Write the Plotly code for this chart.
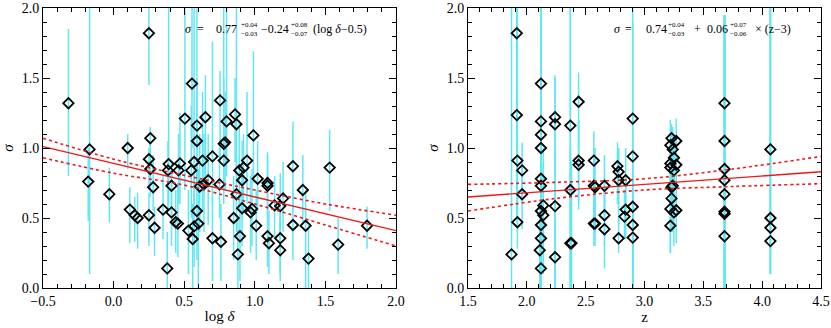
import plotly.graph_objects as go
from plotly.subplots import make_subplots

# ---- left panel: sigma vs log(delta) ----
# point values and error-bar bounds
left_x = [-0.32, -0.17, -0.18, -0.03, 0.10, 0.115, 0.15, 0.17, 0.25, 0.26,
          0.25, 0.26, 0.25, 0.28, 0.29, 0.35, 0.385, 0.39, 0.38, 0.41,
          0.41, 0.44, 0.455, 0.46, 0.47, 0.505, 0.53, 0.55, 0.555, 0.56,
          0.57, 0.57, 0.59, 0.59, 0.59, 0.60, 0.61, 0.63, 0.64, 0.65,
          0.67, 0.70, 0.70, 0.75, 0.754, 0.76, 0.78, 0.79, 0.78, 0.80,
          0.86, 0.87, 0.85, 0.87, 0.88, 0.89, 0.895, 0.91, 0.91, 0.92,
          0.945, 0.97, 0.98, 0.99, 1.01, 1.02, 1.09, 1.09, 1.09, 1.10,
          1.14, 1.18, 1.18, 1.18, 1.20, 1.27, 1.27, 1.34, 1.36, 1.38,
          1.53, 1.59, 1.795]
left_y = [1.32, 0.99, 0.76, 0.67, 1.00, 0.56, 0.52, 0.50, 1.82, 1.07,
          0.92, 0.85, 0.52, 0.72, 0.43, 0.56, 0.84, 0.885, 0.14, 0.73,
          0.54, 0.47, 0.46, 0.84, 0.89, 1.21, 0.41, 0.84, 1.46, 0.35,
          0.44, 0.90, 1.16, 1.05, 0.55, 0.46, 0.725, 0.91, 0.74, 1.22,
          0.77, 0.94, 0.355, 0.74, 1.34, 0.33, 1.03, 1.04, 0.91, 1.19,
          1.24, 1.17, 0.50, 0.67, 0.24, 0.84, 0.37, 0.57, 0.77, 0.86,
          0.91, 0.54, 0.565, 1.09, 0.445, 0.78, 0.75, 0.73, 0.37, 0.32,
          0.59, 0.585, 0.355, 0.27, 0.64, 0.87, 0.45, 0.70, 0.445, 0.21,
          0.86, 0.31, 0.445]
left_lo = [0.80, 0.10, 0.48, 0.47, 0.85, 0.32, 0.33, 0.28, 1.45, 0.88,
           0.72, 0.65, 0.30, 0.55, 0.23, 0.35, 0.55, 0.60, 0.00, 0.50,
           0.30, 0.25, 0.22, 0.60, 0.60, 0.70, 0.10, 0.50, 1.00, 0.00,
           0.15, 0.55, 0.75, 0.70, 0.20, 0.00, 0.40, 0.55, 0.40, 0.80,
           0.45, 0.60, 0.05, 0.50, 0.90, 0.05, 0.70, 0.70, 0.60, 0.80,
           0.90, 0.80, 0.20, 0.40, 0.00, 0.55, 0.05, 0.30, 0.50, 0.55,
           0.60, 0.25, 0.30, 0.75, 0.20, 0.55, 0.55, 0.50, 0.15, 0.10,
           0.35, 0.35, 0.10, 0.05, 0.40, 0.55, 0.20, 0.45, 0.00, 0.00,
           0.55, 0.10, 0.28]
left_hi = [1.85, 2.05, 1.00, 0.86, 1.10, 0.72, 0.65, 0.68, 2.20, 1.15,
           1.00, 1.05, 0.68, 0.95, 0.58, 0.80, 1.05, 2.05, 0.40, 0.90,
           0.85, 0.70, 0.75, 1.10, 1.25, 2.05, 0.70, 1.30, 2.05, 0.60,
           0.80, 2.05, 2.05, 1.50, 0.90, 0.85, 1.10, 1.40, 1.10, 1.52,
           1.10, 1.76, 0.65, 1.00, 1.55, 0.60, 2.05, 1.40, 1.50, 2.05,
           1.50, 2.05, 0.80, 0.95, 0.50, 1.20, 0.70, 0.85, 1.05, 1.10,
           1.40, 0.80, 0.85, 1.69, 0.70, 1.05, 0.97, 0.95, 0.60, 0.55,
           0.80, 0.82, 0.60, 0.50, 0.90, 1.19, 0.70, 0.95, 0.70, 0.45,
           1.13, 0.50, 0.58]

# fitted relation and its confidence band
left_fit_x = [-0.5, 2.0]
left_fit_y = [1.01, 0.41]
left_band_x = [-0.5, 0.0, 0.5, 1.0, 1.5, 2.0]
left_band_hi = [1.07, 0.92, 0.805, 0.70, 0.60, 0.52]
left_band_lo = [0.93, 0.82, 0.735, 0.60, 0.45, 0.30]

# ---- right panel: sigma vs z ----
right_z = [1.87, 1.915, 1.915, 1.92, 1.92, 1.96, 1.96,
           2.12, 2.12, 2.12, 2.12, 2.12, 2.12, 2.14, 2.12, 2.14, 2.12, 2.12, 2.11, 2.12,
           2.24, 2.24, 2.24, 2.24,
           2.37, 2.37, 2.37, 2.38,
           2.44, 2.44, 2.44,
           2.57, 2.57, 2.58, 2.57, 2.58,
           2.66, 2.66, 2.66,
           2.77, 2.78, 2.78, 2.78,
           2.84, 2.84, 2.83,
           2.90, 2.90, 2.90, 2.90, 2.90,
           3.23, 3.27, 3.22, 3.24, 3.25, 3.22, 3.27, 3.22, 3.25, 3.24, 3.23, 3.23,
           3.22, 3.27, 3.25, 3.22,
           3.68, 3.68, 3.68, 3.68, 3.68, 3.68, 3.68, 3.68,
           4.07, 4.07, 4.07, 4.07]
right_y = [0.24, 1.82, 1.235, 0.91, 0.47, 0.84, 0.67,
           1.46, 1.19, 1.095, 1.00, 0.78, 0.73, 0.59, 0.55, 0.52, 0.45, 0.355, 0.27, 0.14,
           1.22, 1.17, 0.585, 0.22,
           1.16, 0.70, 0.32, 0.32,
           1.33, 0.91, 0.88,
           0.91, 0.73, 0.72, 0.46, 0.46,
           0.73, 0.52, 0.42,
           0.87, 0.83, 0.77, 0.355,
           0.77, 0.56, 0.51,
           1.21, 0.94, 0.58, 0.45, 0.36,
           1.07, 1.05, 1.02, 0.99, 0.93, 0.89, 0.88, 0.86, 0.84, 0.73, 0.72, 0.64,
           0.565, 0.555, 0.54, 0.445,
           1.32, 1.05, 0.85, 0.77, 0.67, 0.545, 0.53, 0.37,
           0.99, 0.50, 0.43, 0.335]
right_lo = [0.00, 1.20, 0.50, 0.40, 0.28, 0.65, 0.42,
            1.00, 0.00, 0.70, 0.50, 0.20, 0.30, 0.10, 0.10, 0.10, 0.05, 0.00, 0.00, 0.00,
            0.80, 0.00, 0.00, 0.00,
            0.00, 0.00, 0.00, 0.00,
            1.00, 0.56, 0.60,
            0.50, 0.40, 0.40, 0.30, 0.30,
            0.50, 0.30, 0.14,
            0.60, 0.55, 0.45, 0.25,
            0.50, 0.35, 0.35,
            0.00, 0.00, 0.00, 0.00, 0.00,
            0.80, 0.80, 0.80, 0.80, 0.70, 0.70, 0.70, 0.70, 0.60, 0.40, 0.40, 0.40,
            0.25, 0.32, 0.30, 0.25,
            0.00, 0.00, 0.00, 0.00, 0.00, 0.00, 0.00, 0.00,
            0.10, 0.10, 0.10, 0.10]
right_hi = [2.05, 2.05, 2.05, 2.05, 0.70, 1.04, 0.90,
            2.05, 2.05, 1.69, 1.57, 2.05, 1.20, 1.00, 0.90, 0.90, 0.90, 0.80, 0.60, 0.50,
            1.52, 1.50, 1.00, 0.50,
            2.05, 2.05, 1.00, 0.90,
            1.54, 1.20, 1.20,
            1.12, 1.00, 1.00, 0.70, 0.70,
            0.95, 0.80, 0.70,
            1.04, 1.00, 1.00, 0.50,
            1.00, 0.80, 0.70,
            1.90, 2.05, 0.90, 0.80, 0.70,
            1.17, 1.21, 1.20, 1.15, 1.10, 1.05, 1.05, 1.00, 1.00, 0.95, 0.95, 0.90,
            0.80, 0.80, 0.80, 0.70,
            1.95, 1.95, 1.95, 1.95, 1.95, 1.95, 1.95, 1.95,
            2.05, 2.05, 2.05, 2.05]

right_fit_x = [1.5, 4.5]
right_fit_y = [0.65, 0.83]
right_band_x = [1.5, 2.25, 3.0, 3.75, 4.5]
right_band_hi = [0.74, 0.755, 0.78, 0.85, 0.94]
right_band_lo = [0.55, 0.64, 0.70, 0.725, 0.745]

CYAN = "rgb(95,232,244)"
RED = "rgb(235,25,25)"
SERIF = "Liberation Serif"

fig = make_subplots(rows=1, cols=2, horizontal_spacing=0.0925)


def add_panel(col, xs, ys, lo, hi, fx, fy, bx, bhi, blo):
    plus = [h - y for h, y in zip(hi, ys)]
    minus = [y - l for y, l in zip(ys, lo)]
    fig.add_trace(go.Scatter(
        x=xs, y=ys, mode="markers",
        marker=dict(symbol="diamond-open", size=8, color="black", line=dict(width=1.8, color="black")),
        error_y=dict(type="data", symmetric=False, array=plus, arrayminus=minus,
                     color=CYAN, thickness=1.5, width=0),
        showlegend=False), row=1, col=col)
    fig.add_trace(go.Scatter(x=fx, y=fy, mode="lines", line=dict(color=RED, width=1.4),
                             showlegend=False), row=1, col=col)
    for b in (bhi, blo):
        fig.add_trace(go.Scatter(x=bx, y=b, mode="lines", line=dict(color=RED, width=1.6, dash="dot", shape="spline"),
                                 showlegend=False), row=1, col=col)


add_panel(1, left_x, left_y, left_lo, left_hi, left_fit_x, left_fit_y,
          left_band_x, left_band_hi, left_band_lo)
add_panel(2, right_z, right_y, right_lo, right_hi, right_fit_x, right_fit_y,
          right_band_x, right_band_hi, right_band_lo)

axis_style = dict(showgrid=False, zeroline=False, showline=True, linecolor="black", linewidth=1,
                  mirror="ticks", ticks="inside", ticklen=7, tickwidth=1, tickcolor="black",
                  dtick=0.5, tickformat=".1f", ticklabeloverflow="allow",
                  minor=dict(ticks="inside", ticklen=4, dtick=0.1, tickcolor="black", showgrid=False),
                  tickfont=dict(family=SERIF, size=14, color="black"),
                  title_font=dict(family=SERIF, size=15, color="black"))

fig.update_xaxes(**axis_style)
fig.update_yaxes(**axis_style)
fig.update_xaxes(range=[-0.5, 2.0], tick0=-0.5, title_text="log <i>δ</i>", title_standoff=2, row=1, col=1)
fig.update_xaxes(range=[1.5, 4.5], tick0=1.5, title_text="z", title_standoff=2, row=1, col=2)
fig.update_yaxes(range=[0, 2.0], title_text="<i>σ</i>", title_standoff=4)

W, H = 831, 328
L, R, T, B = 43, 9, 1, 40
PW, PH = W - L - R, H - T - B


def ann(text, px, py, size, anchor="left"):
    fig.add_annotation(text=text, xref="paper", yref="paper",
                       x=(px - L) / PW, y=(H - B - py) / PH, xanchor=anchor, yanchor="middle",
                       showarrow=False, font=dict(family=SERIF, size=size, color="black"))


# fit labels (left)
ann("<i>σ</i>", 183, 23, 12)
ann("=", 195, 23, 12)
ann("0.77", 214, 23, 12)
ann("+0.04", 239, 18, 7)
ann("−0.03", 239, 28, 7)
ann("−0.24", 259, 23, 12)
ann("+0.08", 289, 18, 7)
ann("−0.07", 289, 28, 7)
ann("(log <i>δ</i>−0.5)", 311, 23, 12)

# fit labels (right)
ann("<i>σ</i>", 613, 23, 12)
ann("=", 624, 23, 12)
ann("0.74", 645, 23, 12)
ann("+0.04", 667, 18, 7)
ann("−0.03", 667, 28, 7)
ann("+", 693, 23, 12)
ann("0.06", 706, 23, 12)
ann("+0.07", 729, 18, 7)
ann("−0.06", 729, 28, 7)
ann("× (z−3)", 754, 23, 12)

fig.update_layout(width=W, height=H, margin=dict(l=L, r=R, t=T, b=B),
                  paper_bgcolor="white", plot_bgcolor="white")
fig.write_html("out.html", config=dict(displayModeBar=False),
               post_script="document.body.style.margin = '0';")
